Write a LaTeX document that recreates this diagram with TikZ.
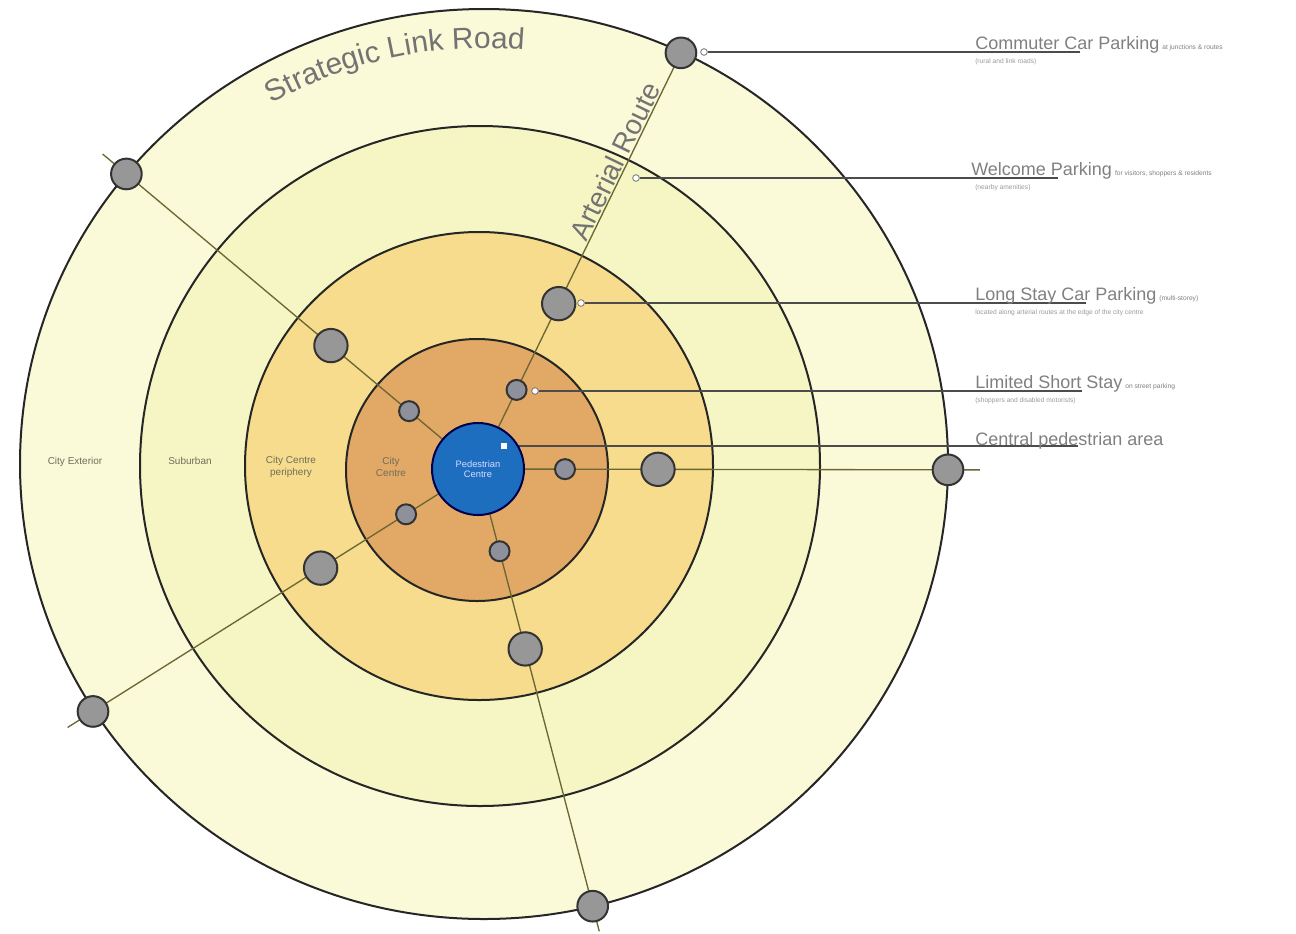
\documentclass[tikz,border=0pt]{standalone}
\usepackage{fontspec}
\setmainfont{Liberation Sans}
\usetikzlibrary{decorations.text,calc}
\definecolor{ringA}{HTML}{FAFAD8}
\definecolor{ringB}{HTML}{F6F6C4}
\definecolor{ringC}{HTML}{F6DC8C}
\definecolor{ringD}{HTML}{E2A866}
\definecolor{pedblue}{HTML}{1E6EC0}
\definecolor{spokecol}{HTML}{6B6632}
\definecolor{nodegray}{HTML}{979797}
\definecolor{nodeinner}{HTML}{8E909C}
\definecolor{labelgray}{HTML}{808080}
\definecolor{zonegray}{HTML}{6E6E5A}
\begin{document}
\begin{tikzpicture}[x=0.75pt,y=-0.75pt,
  ring/.style={draw=black!85,line width=1.5pt},
  spoke/.style={draw=spokecol,line width=1pt},
  leader/.style={draw=black!70,line width=1pt},
  stopA/.style={circle,draw=black!80,fill=nodeinner,line width=1.5pt,minimum size=15pt,inner sep=0pt},
  stopB/.style={circle,draw=black!80,fill=nodegray,line width=1.5pt,minimum size=25pt,inner sep=0pt},
  stopC/.style={circle,draw=black!80,fill=nodegray,line width=1.5pt,minimum size=23pt,inner sep=0pt},
  pin/.style={circle,draw=black!55,fill=white,line width=0.6pt,minimum size=5pt,inner sep=0pt},
  zone/.style={font=\fontsize{7.5}{8.5}\selectfont,text=zonegray,align=center},
  mainlab/.style={anchor=base west,font=\fontsize{13.5}{14}\selectfont,text=labelgray,inner sep=0pt},
  sublab/.style={anchor=base west,font=\fontsize{5}{6}\selectfont,text=labelgray!80,inner sep=0pt},
  bigtext/.style={font=\fontsize{21}{23}\selectfont,text=black!55}]
\useasboundingbox (0,0) rectangle (1296,933);
% rings
\fill[white] (0,0) rectangle (1296,933);
\draw[ring,fill=ringA] (484,464) ellipse[x radius=464*0.75pt,y radius=455*0.75pt];
\draw[ring,fill=ringB] (480,466) circle[radius=340*0.75pt];
\draw[ring,fill=ringC] (479,466) circle[radius=234*0.75pt];
\draw[ring,fill=ringD] (477,470) circle[radius=131*0.75pt];
\coordinate (C) at (478,469);
% stops
\foreach \ang/\na/\nb/\nc/\ne/\nm in {-64/88/184/463/480/ne, -140/90/192/459/490/nw, 147.8/85/186/455/485/sw, 75.3/85/186/452/478/s, 0.1/87/180/470/502/e}{
  \coordinate (\nm0) at ($(C)+(\ang:\ne)$);
  \coordinate (\nm1) at ($(C)+(\ang:\na)$);
  \coordinate (\nm2) at ($(C)+(\ang:\nb)$);
  \coordinate (\nm3) at ($(C)+(\ang:\nc)$);
}
\draw[spoke] (C) -- (ne0);
\draw[spoke] (C) -- (nw0);
\draw[spoke] (C) -- (sw0);
\draw[spoke] (C) -- (s0);
\draw[spoke] (C) -- (e0);
\foreach \nm in {ne,nw,sw,s,e}{
  \node[stopA] (\nm A) at (\nm1) {};
  \node[stopB] (\nm B) at (\nm2) {};
  \node[stopC] (\nm C) at (\nm3) {};
}
% pins
\node[pin] (pcomm) at (704,52) {};
\node[pin] (pwel) at (636,178) {};
\node[pin] (plong) at (581,303) {};
\node[pin] (plim) at (535,391) {};
\coordinate (cdot) at (504,446);
\coordinate (ecomm) at (1080,52);
\coordinate (ewel) at (1058,178);
\coordinate (elong) at (1086,303);
\coordinate (elim) at (1082,391);
\coordinate (ecen) at (1078,446);
\draw[leader] (pcomm) -- (ecomm);
\draw[leader] (pwel) -- (ewel);
\draw[leader] (plong) -- (elong);
\draw[leader] (plim) -- (elim);
\draw[leader] (cdot) -- (ecen);
% pedestrian centre
\node[circle,draw=black!70!blue,fill=pedblue,line width=1.5pt,minimum size=69pt,inner sep=0pt,
  text=white!85!blue,font=\fontsize{7}{8}\selectfont,align=center] (ped) at (C) {Pedestrian\\Centre};
\node[fill=white,minimum size=4pt,inner sep=0pt] (pdot) at (cdot) {};
% zone labels
\node[zone] (zext) at (75,462) {City Exterior};
\node[zone] (zsub) at (190,461) {Suburban};
\node[zone] (zper) at (291,467) {City Centre\\periphery};
\node[zone] (zcc) at (391,467) {City\\Centre};
% right labels
\node[mainlab] (lcomm) at (975,49) {Commuter Car Parking\,{\fontsize{5}{6}\selectfont at junctions \& routes}};
\node[sublab] (scomm) at (975,63) {(rural and link roads)};
\node[mainlab] (lwel) at (971,175) {Welcome Parking\,{\fontsize{5}{6}\selectfont for visitors, shoppers \& residents}};
\node[sublab] (swel) at (975,189) {(nearby amenities)};
\node[mainlab] (llong) at (975,300) {Long Stay Car Parking\,{\fontsize{5}{6}\selectfont (multi-storey)}};
\node[sublab] (slong) at (975,314) {located along arterial routes at the edge of the city centre};
\node[mainlab] (llim) at (975,388) {Limited Short Stay\,{\fontsize{5}{6}\selectfont on street parking}};
\node[sublab] (slim) at (975,402) {(shoppers and disabled motorists)};
\node[mainlab] (lcen) at (975,445) {Central pedestrian area};
% curved and rotated titles
\path[decorate,decoration={text along path,text align=left,
  text={|\fontsize{22.5}{24}\selectfont\color{black!55}|Strategic Link Road}}]
  plot[domain=-120:-76,samples=60] ({484+424*cos(\x)},{464+416*sin(\x)});
\node[bigtext,anchor=south,rotate=64,inner sep=1pt] (art) at ($(C)+(-64:337)$) {Arterial Route};
\end{tikzpicture}
\end{document}
